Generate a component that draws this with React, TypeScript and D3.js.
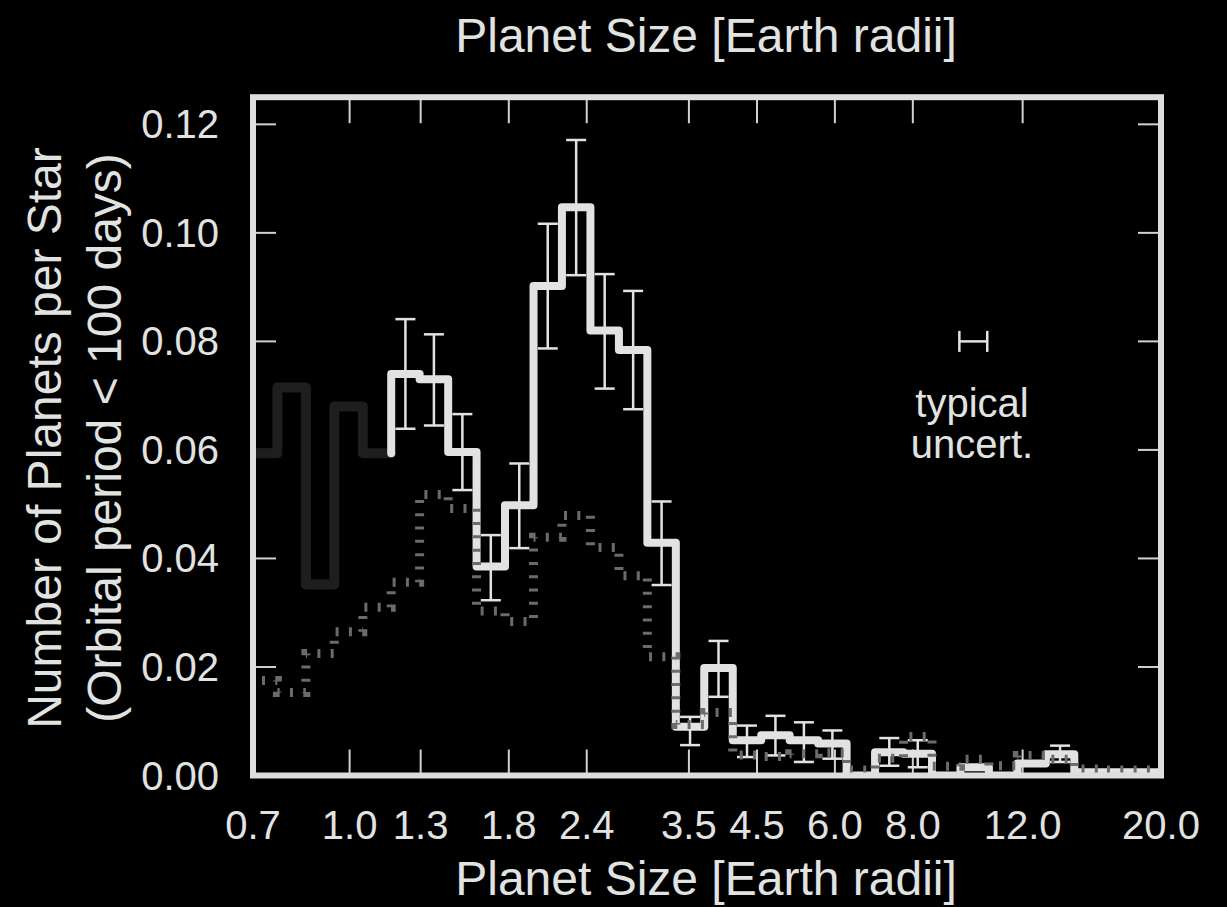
import React, { useEffect } from 'react';
import * as d3 from 'd3';

const W = 1227;
const H = 907;

// bin edges (Earth radii), log-uniform bins
const binEdges = [
  0.689, 0.766, 0.851, 0.945, 1.05, 1.166, 1.295, 1.439, 1.598, 1.775, 1.972,
  2.19, 2.433, 2.703, 3.002, 3.335, 3.704, 4.115, 4.571, 5.077, 5.64, 6.265,
  6.959, 7.73, 8.587, 9.538, 10.595, 11.769, 13.073, 14.522, 16.131, 17.919, 19.904,
];

// faded (incomplete) bins 0-4
const fadedValues = [0.0594, 0.0715, 0.0352, 0.068, 0.0594];

// main histogram, bins 5-31
const mainValues = [
  0.074, 0.073, 0.0596, 0.0385, 0.0498, 0.0902, 0.1047, 0.082, 0.0784, 0.0429,
  0.009, 0.0198, 0.0065, 0.0074, 0.0065, 0.0059, 0.0, 0.0043, 0.004, 0.0,
  0.0015, 0.0, 0.0022, 0.0039, 0.0006, 0.0006, 0.0006,
];

// error bars for bins 5-31 (null = none drawn)
const errLow: (number | null)[] = [
  0.0639, 0.0645, 0.0526, 0.0323, 0.0419, 0.0787, 0.0922, 0.0713, 0.0675, 0.0351,
  0.0056, 0.0145, 0.0034, 0.0037, 0.0025, 0.0031, null, 0.0018, 0.0015, null,
  null, null, null, 0.0025, null, null, null,
];
const errHigh: (number | null)[] = [
  0.0841, 0.0813, 0.0666, 0.0443, 0.0575, 0.1017, 0.1171, 0.0924, 0.0893, 0.0505,
  0.0108, 0.0248, 0.0092, 0.011, 0.0098, 0.0083, null, 0.0069, 0.0065, null,
  null, null, null, 0.0055, null, null, null,
];

// dotted comparison histogram, bins 0-31
const dottedValues = [
  0.0175, 0.0153, 0.0225, 0.0265, 0.031, 0.0356, 0.0518, 0.0492, 0.0303, 0.0284,
  0.0439, 0.0479, 0.042, 0.0368, 0.0219, 0.0094, 0.0116, 0.0038, 0.0035, 0.004,
  0.0042, 0.001, 0.0032, 0.0072, 0.0017, 0.003, 0.0018, 0.0037, 0.003, 0.0012,
  0.001, 0.001,
];

const xTickValues = [0.7, 1.0, 1.3, 1.8, 2.4, 3.5, 4.5, 6.0, 8.0, 12.0, 20.0];
const yTickValues = [0, 0.02, 0.04, 0.06, 0.08, 0.1, 0.12];

// typical uncertainty marker
const typicalX = [9.5, 10.53];
const typicalY = 0.08;

const FG = '#e0e3e1';
const FONT = '"Liberation Sans", Arial, Helvetica, sans-serif';

function stepPoints(values: number[], startBin: number): [number, number][] {
  const pts: [number, number][] = [];
  values.forEach((v, i) => {
    pts.push([binEdges[startBin + i], v]);
    pts.push([binEdges[startBin + i + 1], v]);
  });
  return pts;
}

export default function App() {
  useEffect(() => {
    document.body.style.margin = '0';
    document.body.style.background = '#000';
  }, []);

  const x = d3.scaleLog().domain([0.7, 20]).range([253, 1161]);
  const y = d3.scaleLinear().domain([0, 0.125]).range([775.5, 97.2]);
  const line = d3
    .line<[number, number]>()
    .x((d) => x(d[0]))
    .y((d) => y(d[1]));

  const x0 = x(0.7);
  const x1 = x(20);
  const yTop = y(0.125);
  const yBot = y(0);

  const fadedPts = stepPoints(fadedValues, 0);
  const mainPts: [number, number][] = [
    [binEdges[5], fadedValues[4]],
    ...stepPoints(mainValues, 5),
  ];
  const dottedPts = stepPoints(dottedValues, 0);

  const capW = 10;

  return (
    <svg
      width={W}
      height={H}
      style={{ position: 'absolute', left: 0, top: 0, background: '#000' }}
      fontFamily={FONT}
    >
      <rect x={0} y={0} width={W} height={H} fill="#000" />
      <defs>
        <clipPath id="plotclip">
          <rect x={x0} y={yTop} width={x1 - x0} height={yBot - yTop} />
        </clipPath>
      </defs>

      {/* top title */}
      <text x={706} y={52} fill={FG} fontSize={48} textAnchor="middle">
        Planet Size [Earth radii]
      </text>
      {/* bottom title */}
      <text x={706} y={895} fill={FG} fontSize={48} textAnchor="middle">
        Planet Size [Earth radii]
      </text>
      {/* y titles */}
      <text
        transform={`translate(61,438) rotate(-90)`}
        fill={FG}
        fontSize={48}
        textAnchor="middle"
      >
        Number of Planets per Star
      </text>
      <text
        transform={`translate(121,438) rotate(-90)`}
        fill={FG}
        fontSize={48}
        textAnchor="middle"
      >
        (Orbital period &lt; 100 days)
      </text>

      {/* ticks */}
      {xTickValues.slice(1, -1).map((t) => (
        <g key={'xt' + t}>
          <line x1={x(t)} x2={x(t)} y1={yBot} y2={yBot - 26} stroke="#cfd2d0" strokeWidth={2} />
          <line x1={x(t)} x2={x(t)} y1={yTop} y2={yTop + 26} stroke="#cfd2d0" strokeWidth={2} />
        </g>
      ))}
      {yTickValues.slice(1).map((t) => (
        <g key={'yt' + t}>
          <line x1={x0} x2={x0 + 23} y1={y(t)} y2={y(t)} stroke="#cfd2d0" strokeWidth={2} />
          <line x1={x1} x2={x1 - 23} y1={y(t)} y2={y(t)} stroke="#cfd2d0" strokeWidth={2} />
        </g>
      ))}

      {/* tick labels */}
      {xTickValues.map((t) => (
        <text key={'xl' + t} x={x(t)} y={839} fill={FG} fontSize={40} textAnchor="middle">
          {t.toFixed(1)}
        </text>
      ))}
      {yTickValues.map((t) => (
        <text key={'yl' + t} x={219} y={y(t) + 14} fill={FG} fontSize={40} textAnchor="end">
          {t.toFixed(2)}
        </text>
      ))}

      <g clipPath="url(#plotclip)">
        {/* faded histogram */}
        <path
          d={line(fadedPts) || ''}
          fill="none"
          stroke="#1e1e1e"
          strokeWidth={10}
          strokeLinejoin="round"
          strokeLinecap="round"
        />
        {/* main histogram */}
        <path
          d={line(mainPts) || ''}
          fill="none"
          stroke={FG}
          strokeWidth={8}
          strokeLinejoin="round"
          strokeLinecap="round"
        />
        {/* error bars */}
        {mainValues.map((v, i) => {
          const lo = errLow[i];
          const hi = errHigh[i];
          if (lo == null || hi == null) return null;
          const cx = x(Math.sqrt(binEdges[5 + i] * binEdges[6 + i]));
          return (
            <g key={'eb' + i} stroke={FG} strokeWidth={2.5}>
              <line x1={cx} x2={cx} y1={y(lo)} y2={y(hi)} />
              <line x1={cx - capW} x2={cx + capW} y1={y(lo)} y2={y(lo)} />
              <line x1={cx - capW} x2={cx + capW} y1={y(hi)} y2={y(hi)} />
            </g>
          );
        })}
        {/* dotted histogram */}
        <path
          d={line(dottedPts) || ''}
          fill="none"
          stroke="#6b6b6b"
          strokeWidth={9}
          strokeDasharray="3 10.3"
        />
      </g>

      {/* typical uncertainty */}
      <g stroke={FG} strokeWidth={2.5}>
        <line x1={x(typicalX[0])} x2={x(typicalX[1])} y1={y(typicalY)} y2={y(typicalY)} />
        <line x1={x(typicalX[0])} x2={x(typicalX[0])} y1={y(typicalY) - 10.5} y2={y(typicalY) + 10.5} />
        <line x1={x(typicalX[1])} x2={x(typicalX[1])} y1={y(typicalY) - 10.5} y2={y(typicalY) + 10.5} />
      </g>
      <text x={972} y={417} fill={FG} fontSize={40} textAnchor="middle">
        typical
      </text>
      <text x={972} y={458} fill={FG} fontSize={40} textAnchor="middle">
        uncert.
      </text>

      {/* frame */}
      <rect
        x={x0}
        y={yTop}
        width={x1 - x0}
        height={yBot - yTop}
        fill="none"
        stroke="#dcdfdd"
        strokeWidth={6}
      />
    </svg>
  );
}
